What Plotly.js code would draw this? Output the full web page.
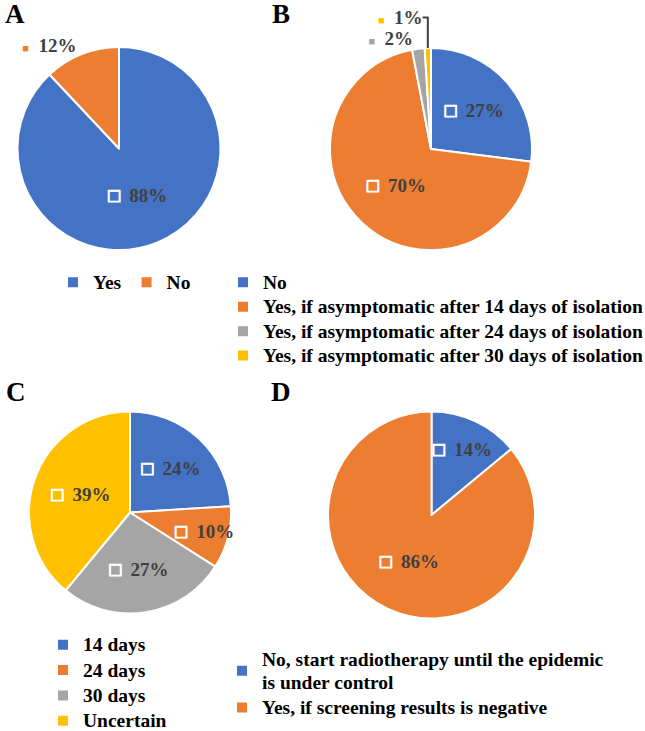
<!DOCTYPE html>
<html>
<head>
<meta charset="utf-8">
<script src="https://cdn.plot.ly/plotly-3.0.1.min.js"></script>
<style>html,body{margin:0;padding:0;background:#fff;}#chart{width:645px;height:731px;}</style>
</head>
<body>
<div id="chart"></div>
<script>
// ---- data ----
const labelsA = ['Yes', 'No'];
const valuesA = [88, 12];
const labelsB = ['No',
  'Yes, if asymptomatic after 14 days of isolation',
  'Yes, if asymptomatic after 24 days of isolation',
  'Yes, if asymptomatic after 30 days of isolation'];
const valuesB = [27, 70, 2, 1];
const labelsC = ['14 days', '24 days', '30 days', 'Uncertain'];
const valuesC = [24, 10, 27, 39];
const labelsD = ['No, start radiotherapy until the epidemic<br>is under control',
  'Yes, if screening results is negative'];
const valuesD = [14, 86];
const panelLetters = ['A', 'B', 'C', 'D'];

const blue = '#4472C4', orange = '#ED7D31', grey = '#A5A5A5', yellow = '#FFC000';
const colorsA = [blue, orange];
const colorsB = [blue, orange, grey, yellow];
const colorsC = [blue, orange, grey, yellow];
const colorsD = [blue, orange];
const posA = ['inside', 'outside'];
const posB = ['inside', 'inside', 'outside', 'outside'];
const posC = ['inside', 'inside', 'inside', 'inside'];
const posD = ['inside', 'inside'];

const W = 645, H = 731;
const serif = 'Liberation Serif, Times New Roman, serif';

function tmpl(pos, colors) {
  return pos.map((p, i) => p === 'inside'
    ? '<span style="color:#ffffff;font-size:19px;stroke:#ffffff;stroke-width:1.2px">□</span>\u00a0 %{value}%'
    : '<span style="color:' + colors[i] + ';font-size:11px">■</span>\u00a0 %{value}%');
}
function dom(x0, x1, y0, y1) {
  return {x: [x0 / W, x1 / W], y: [1 - y1 / H, 1 - y0 / H]};
}
// each pie keeps its own legend entries (pie legends merge equal labels otherwise)
function legLabels(labels, k) {
  return labels.map(l => '<span style="font-size:19.5px">' + l + '</span>' + '\u200b'.repeat(k));
}
function pie(labels, values, colors, pos, domain, legend, k) {
  return {
    type: 'pie', labels: legLabels(labels, k), values: values, sort: false,
    direction: 'clockwise', rotation: 0,
    marker: {colors: colors, line: {color: '#ffffff', width: 2}},
    textposition: pos, texttemplate: tmpl(pos, colors), textinfo: 'text',
    textfont: {family: serif, size: 19, weight: 'bold', color: '#404040'},
    insidetextorientation: 'horizontal',
    domain: domain, legend: legend, hoverinfo: 'none', showlegend: true
  };
}

const data = [
  pie(labelsA, valuesA, colorsA, posA, dom(17, 221, 47, 250), 'legend', 0),
  pie(labelsB, valuesB, colorsB, posB, dom(330, 532, 48, 250), 'legend2', 1),
  pie(labelsC, valuesC, colorsC, posC, dom(29, 231, 411, 614), 'legend3', 2),
  pie(labelsD, valuesD, colorsD, posD, dom(328, 535, 411, 619), 'legend4', 3)
];

function leg(xpx, ytop, orient, fs) {
  return {x: xpx / W, y: 1 - ytop / H, xanchor: 'left', yanchor: 'top',
    orientation: orient, font: {family: serif, size: fs, weight: 'bold', color: '#000000'},
    bgcolor: 'rgba(0,0,0,0)', borderwidth: 0,
    itemclick: false, itemdoubleclick: false, traceorder: 'normal'};
}

const letterPos = [[15, 14], [281, 14], [16, 392], [281, 392]];
const annotations = panelLetters.map((t, i) => ({
  text: t, xref: 'paper', yref: 'paper', x: letterPos[i][0] / W, y: 1 - letterPos[i][1] / H,
  xanchor: 'center', yanchor: 'middle', showarrow: false,
  font: {family: serif, size: 27, weight: 'bold', color: '#000000'}
}));

const layout = {
  width: W, height: H, margin: {l: 0, r: 0, t: 0, b: 0, autoexpand: false},
  paper_bgcolor: '#ffffff', plot_bgcolor: '#ffffff',
  showlegend: true,
  legend: leg(53, 265, 'h', 16.5),
  legend2: leg(223, 265, 'v', 16.5),
  legend3: leg(43, 627, 'v', 17.2),
  legend4: leg(222, 642, 'v', 17.2),
  uniformtext: {mode: 'show', minsize: 19},
  annotations: annotations
};

Plotly.newPlot('chart', data, layout, {displayModeBar: false, staticPlot: true});
</script>
</body>
</html>
